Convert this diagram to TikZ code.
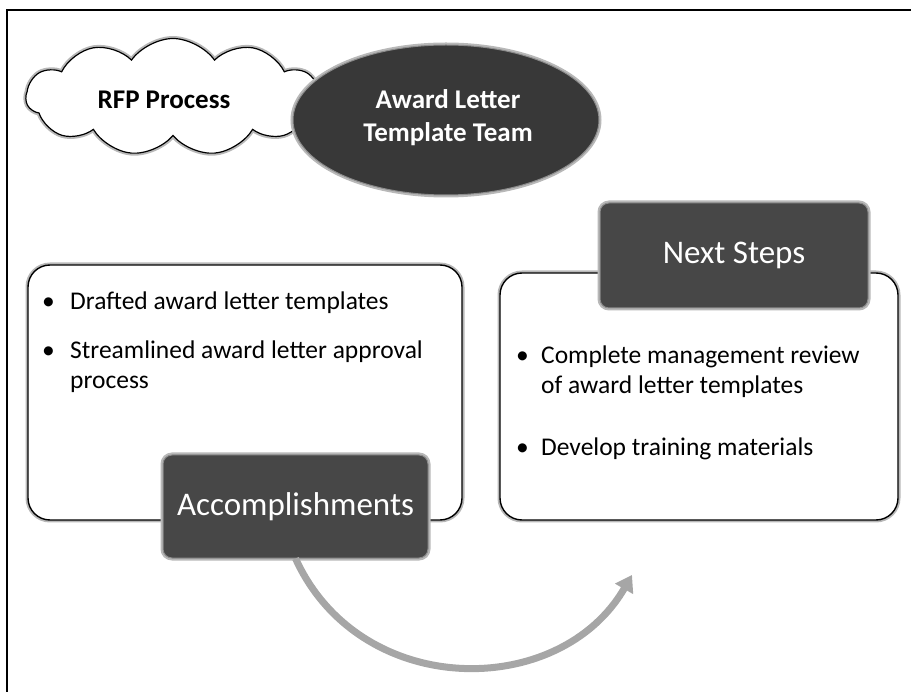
\documentclass[tikz,border=0pt]{standalone}
\usepackage{fontspec}
\setmainfont{Carlito}
\usetikzlibrary{shapes.symbols,shapes.geometric,arrows.meta}
\begin{document}
\begin{tikzpicture}[x=1pt,y=-1pt,
  halo/.style={preaction={draw=black!28,line width=5pt}},
  panel/.style={draw=black,line width=1.4pt,fill=white,rounded corners=22pt,halo,inner sep=0pt},
  tag/.style={fill=black!72,draw=black!45,line width=1pt,rounded corners=9pt,halo,text=white,
    font=\fontsize{33}{38}\selectfont,inner sep=0pt},
  item/.style={anchor=base west,font=\fontsize{25.5}{30}\selectfont,align=left,inner sep=0pt},
  title/.style={font=\bfseries\fontsize{27}{33}\selectfont,align=center,inner sep=0pt},
  flow/.style={draw=black!35,line width=7pt,-{Triangle[length=16pt,width=20pt]}},
]
\useasboundingbox (0,0) rectangle (911,692);
% frame
\draw[line width=2pt] (911,10) -- (7,10) -- (7,692);

% cloud and ellipse
\node[cloud,cloud puffs=11,cloud puff arc=110,aspect=2.5,draw=black,line width=1.2pt,fill=white,halo,
      minimum width=294pt,minimum height=117pt,inner sep=0pt] (cloud) at (173,97) {};
\node[title,text=black] (rfp) at (164,100) {RFP Process};
\node[ellipse,fill=black!78,draw=black!45,line width=1pt,halo,minimum width=306pt,minimum height=150pt,
      inner sep=0pt] (team) at (446,120) {};
\node[title,text=white] (teamtext) at (448,118) {Award Letter\\Template Team};

% left panel
\node[panel,minimum width=434pt,minimum height=255pt] (left) at (245,392.5) {};
\node[item] (b1) at (42,310) {•};
\node[item] (t1) at (70,310) {Drafted award letter templates};
\node[item] (b2) at (42,359) {•};
\node[item] (t2) at (70,389) {Streamlined award letter approval\\process};
\node[tag,minimum width=265pt,minimum height=103pt] (acc) at (295.5,506.5) {Accomplishments};

% right panel
\node[panel,minimum width=398pt,minimum height=247pt] (right) at (699,396.5) {};
\node[tag,minimum width=268pt,minimum height=105pt] (next) at (734,255.5) {Next Steps};
\node[item] (b3) at (516,364) {•};
\node[item] (t3) at (541,394) {Complete management review\\of award letter templates};
\node[item] (b4) at (516,456) {•};
\node[item] (t4) at (541,456) {Develop training materials};

% curved arrow
\coordinate (arrowend) at (632,575);
\draw[flow] (acc.south) .. controls (360,700) and (560,700) .. (arrowend);
\end{tikzpicture}
\end{document}
